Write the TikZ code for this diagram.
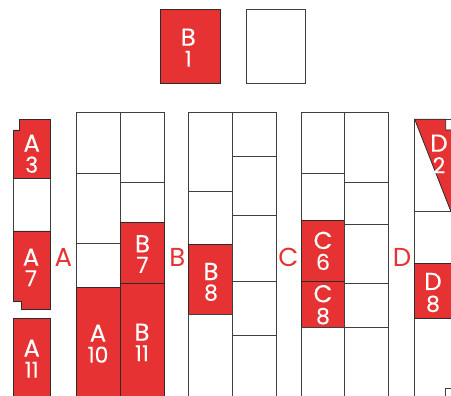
\documentclass[tikz,border=0pt]{standalone}
\usepackage{fontspec}
\setmainfont{Poppins}
\definecolor{seat}{HTML}{E63232}
\definecolor{edge}{HTML}{3F3F3F}
\newcommand{\digitsize}{\fontsize{22}{22}\selectfont\addfontfeature{FakeBold=0.1}}
\tikzset{
  cell/.style={draw=edge,line width=.8pt,fill=white,line join=miter},
  taken/.style={draw=edge!70!black,line width=.8pt,fill=seat,line join=miter},
  seatlabel/.style={anchor=base,inner sep=0pt,text=white,font=\fontsize{24.5}{24.5}\selectfont\addfontfeature{FakeBold=0.1}},
  rowlabel/.style={anchor=base,inner sep=0pt,text=seat,font=\fontsize{26}{26}\selectfont}
}
% name, x, first baseline, gap to second baseline, first line, second line
\newcommand{\seatlab}[6]{%
  \node[seatlabel] (#1) at (#2,#3) {\vtop{\baselineskip=#4pt\lineskiplimit=-100pt
    \hbox to 36pt{\hss#5\hss}\hbox to 36pt{\hss\digitsize#6\hss}}};}
\begin{document}
\begin{tikzpicture}[x=1pt,y=-1pt]
\useasboundingbox (0,0) rectangle (451,396);
\clip (0,0) rectangle (451,396);
% top pair
\draw[taken] (160,9) rectangle (220,83.3);
\draw[cell] (246,9) rectangle (305.7,83.3);
% left strip
\draw[cell] (13,178.3) rectangle (50.7,231);
\draw[taken] (19.4,119.3) -- (50.7,119.3) -- (50.7,178.3) -- (13,178.3) -- (13,130) -- (19.4,130) -- cycle;
\draw[taken] (13,231) -- (50.7,231) -- (50.7,309.7) -- (21.7,309.7) -- (21.7,301) -- (13,301) -- cycle;
\draw[taken] (13,318.3) rectangle (50.7,400);
% group A/B
\draw[cell] (76.7,112.5) rectangle (120.5,173.5);
\draw[cell] (76.7,173.5) rectangle (120.5,243.7);
\draw[cell] (76.7,243.7) rectangle (120.5,287.7);
\draw[taken] (76.7,287.7) rectangle (120.5,400);
\draw[cell] (120.5,112.5) rectangle (164.5,182.3);
\draw[cell] (120.5,182.3) rectangle (164.5,222);
\draw[taken] (120.5,222) rectangle (164.5,283.3);
\draw[taken] (120.5,283.3) rectangle (164.5,400);
% group B
\draw[cell] (188.7,112.5) rectangle (232.7,191);
\draw[cell] (188.7,191) rectangle (232.7,244);
\draw[taken] (188.7,244) rectangle (232.7,314.3);
\draw[cell] (188.7,314.3) rectangle (232.7,400);
\draw[cell] (232.7,112.5) rectangle (276.7,156.3);
\draw[cell] (232.7,156.3) rectangle (276.7,215.3);
\draw[cell] (232.7,215.3) rectangle (276.7,281.3);
\draw[cell] (232.7,281.3) rectangle (276.7,335.7);
\draw[cell] (232.7,335.7) rectangle (276.7,400);
% group C
\draw[cell] (301,112.5) rectangle (344.7,173.3);
\draw[cell] (301,173.3) rectangle (344.7,220);
\draw[taken] (301,220) rectangle (344.7,281.3);
\draw[taken] (301,281.3) rectangle (344.7,327.3);
\draw[cell] (301,327.3) rectangle (344.7,400);
\draw[cell] (344.7,112.5) rectangle (388.7,182.3);
\draw[cell] (344.7,182.3) rectangle (388.7,224.3);
\draw[cell] (344.7,224.3) rectangle (388.7,283.3);
\draw[cell] (344.7,283.3) rectangle (388.7,327.3);
\draw[cell] (344.7,327.3) rectangle (388.7,400);
% group D
\draw[cell] (414.7,119.3) rectangle (470,211);
\draw[cell] (414.7,211) rectangle (470,263.3);
\draw[cell] (414.7,318.3) rectangle (470,400);
\draw[taken] (414.7,119.3) -- (445.7,119.3) -- (445.7,130) -- (470,130) -- (470,260) -- cycle;
\draw[taken] (414.7,263.3) rectangle (470,318.3);
\draw[cell] (445.7,388.3) rectangle (470,400);
% seat labels
\seatlab{bone}{188.3}{45.7}{21}{B}{1}
\seatlab{athree}{31.7}{151.7}{21}{A}{3}
\seatlab{aseven}{31}{265.7}{20.5}{A}{7}
\seatlab{aeleven}{31.7}{356.7}{21}{A}{11}
\seatlab{aten}{98}{341.7}{21}{A}{10}
\seatlab{bseven}{142.5}{252.3}{20.5}{B}{7}
\seatlab{beleven}{142}{340.7}{20.5}{B}{11}
\seatlab{beight}{211}{280}{20.5}{B}{8}
\seatlab{csix}{323}{249}{21}{C}{6}
\seatlab{ceight}{323}{302.3}{21.7}{C}{8}
\seatlab{dtwo}{439}{151.7}{21.6}{D}{2}
\seatlab{deight}{433}{290}{21.7}{D}{8}
% row labels
\node[rowlabel] (rowa) at (63.3,266.7) {A};
\node[rowlabel] (rowb) at (177.3,266.7) {B};
\node[rowlabel] (rowc) at (288.3,266.7) {C};
\node[rowlabel] (rowd) at (402,266.7) {D};
\end{tikzpicture}
\end{document}
